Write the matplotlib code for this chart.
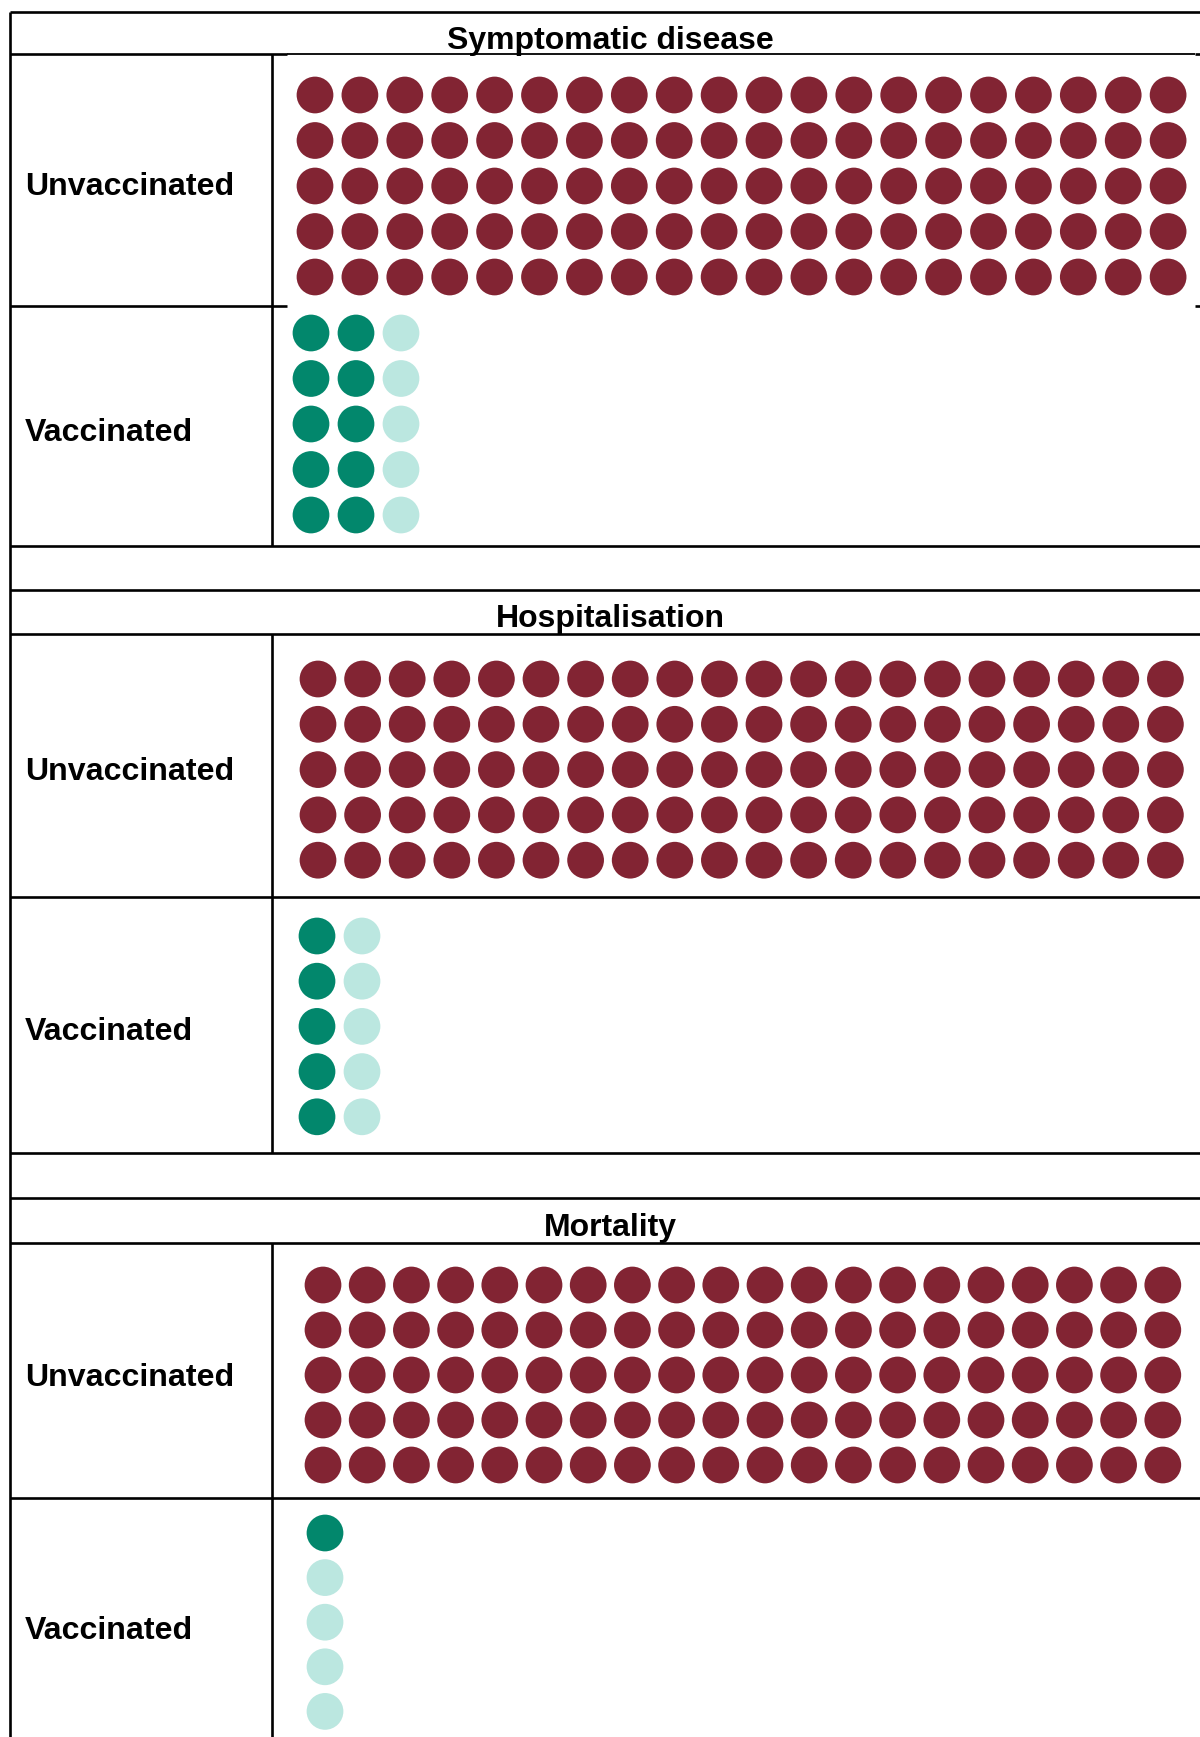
import matplotlib.pyplot as plt

plt.rcParams['font.family'] = ['Liberation Sans', 'DejaVu Sans']

# Data: dots per 100 people
outcomes = ["Symptomatic disease", "Hospitalisation", "Mortality"]
groups = ["Unvaccinated", "Vaccinated"]
unvaccinated_dots = [100, 100, 100]
vaccinated_dark = [10, 5, 1]
vaccinated_light = [5, 5, 4]

MAROON = "#822433"
GREEN = "#02876C"
LIGHT = "#BBE7E0"

# -----------------------------
# Layout (pixels)
# -----------------------------
W, H = 1200, 1737
LEFT, DIV, RIGHT = 10, 272, 1215
title_bottom = [54, 634, 1243]
title_pad = [5, 7, 7]
unvacc_bottom = [306, 897, 1498]
vacc_bottom = [546, 1153, 1800]
blank_bottom = [590, 1198, None]

# dot grids: (x0, y0, dx, dy)
unvacc_grid = [(315, 95, 44.9, 45.5), (318, 679, 44.6, 45.3), (323, 1285, 44.2, 45.0)]
vacc_grid = [(311, 333, 45.0, 45.5), (317, 936, 45.0, 45.2), (325, 1533, 45.0, 44.6)]
ROWS = 5
DOT_S = 700
LW = 1.9

fig = plt.figure(figsize=(W / 100, H / 100), dpi=100)
ax = fig.add_axes([0, 0, 1, 1])
ax.set_xlim(0, W)
ax.set_ylim(H, 0)
ax.axis("off")


def waffle(counts, colors, grid):
    x0, y0, dx, dy = grid
    xs, ys, cs = [], [], []
    k = 0
    for n, c in zip(counts, colors):
        for _ in range(n):
            xs.append(x0 + (k // ROWS) * dx)
            ys.append(y0 + (k % ROWS) * dy)
            cs.append(c)
            k += 1
    ax.scatter(xs, ys, s=DOT_S, c=cs, linewidths=0, zorder=3)


def hline(y, x1=LEFT, x2=RIGHT, lw=LW):
    ax.plot([x1, x2], [y, y], color="black", lw=lw, solid_capstyle="butt", zorder=2)


def vline(x, y1, y2):
    ax.plot([x, x], [y1, y2], color="black", lw=LW, solid_capstyle="butt", zorder=2)


# outer left border and top border
vline(LEFT, 12, H + 10)
hline(12)

for i, name in enumerate(outcomes):
    tb = title_bottom[i]
    ub = unvacc_bottom[i]
    vb = vacc_bottom[i]

    # title row
    ax.text(610, tb - title_pad[i], name, ha="center", va="baseline",
            fontsize=23, fontweight="bold", zorder=4)

    # grid lines
    if i == 0:
        # dot picture sits over the borders in the first block
        hline(tb, LEFT, 287)
        hline(tb, 287, 1195, lw=1.3)
        hline(tb, 1195, RIGHT)
        hline(ub, LEFT, 287)
        hline(ub, 1195, RIGHT)
    else:
        hline(tb)
        hline(ub)
    hline(vb)
    if blank_bottom[i] is not None:
        hline(blank_bottom[i])
    vline(DIV, tb, min(vb, H + 10))

    # row labels
    ax.text(25, (tb + ub) / 2 + 15, groups[0], ha="left", va="baseline",
            fontsize=23.1, fontweight="bold", zorder=4)
    vb_lab = (ub + vb) / 2 + 15 if i < 2 else 1639
    ax.text(25, vb_lab, groups[1], ha="left", va="baseline",
            fontsize=23.1, fontweight="bold", zorder=4)

    # dots
    waffle([unvaccinated_dots[i]], [MAROON], unvacc_grid[i])
    waffle([vaccinated_dark[i], vaccinated_light[i]], [GREEN, LIGHT], vacc_grid[i])

fig.savefig("out.png", dpi=100)
